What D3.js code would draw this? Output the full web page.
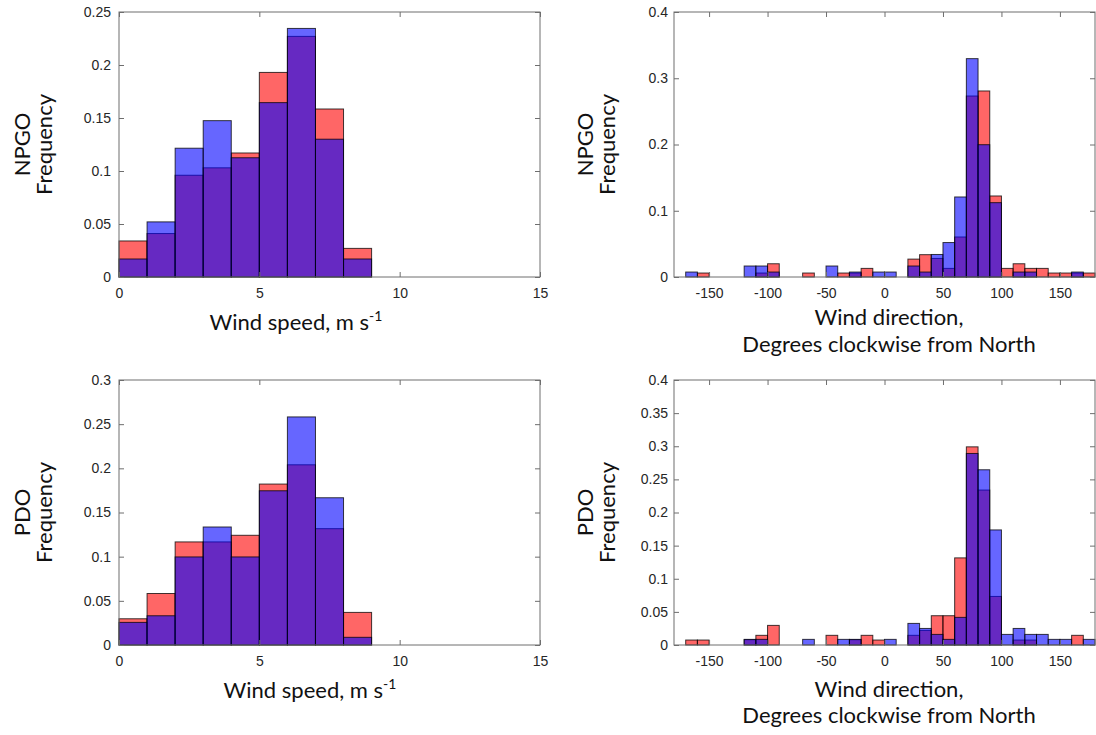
<!DOCTYPE html>
<html lang="en">
<head>
    <meta charset="UTF-8">
    <title>Wind histograms, NPGO and PDO</title>
    <script src="https://d3js.org/d3.v7.min.js"></script>
    <style>
        body {
            margin: 0;
            background-color: #fff;
            overflow: hidden;
        }
        svg {
            display: block;
        }
        .tick text {
            font-family: 'Liberation Sans', Arial, sans-serif;
            font-size: 14px;
            fill: #262626;
        }
        .tick line {
            stroke: #6e6e6e;
        }
        .frame {
            fill: none;
            stroke: #6e6e6e;
            stroke-width: 1;
        }
        .label {
            font-family: 'Lato', 'Noto Sans', sans-serif;
            font-size: 22px;
            fill: #111;
        }
        .bar {
            stroke: #000;
            stroke-width: 1;
            stroke-opacity: 0.75;
        }
    </style>
</head>
<body>
<script>
    // bin edges
    const speedEdges = [0, 1, 2, 3, 4, 5, 6, 7, 8, 9, 10, 11, 12, 13, 14, 15];
    const dirEdges = [-180, -170, -160, -150, -140, -130, -120, -110, -100, -90, -80, -70, -60, -50, -40, -30, -20, -10,
        0, 10, 20, 30, 40, 50, 60, 70, 80, 90, 100, 110, 120, 130, 140, 150, 160, 170, 180];

    // NPGO wind speed
    const npgoSpeedRed  = [0.034, 0.041, 0.096, 0.103, 0.117, 0.193, 0.227, 0.1585, 0.027, 0, 0, 0, 0, 0, 0];
    const npgoSpeedBlue = [0.017, 0.052, 0.1215, 0.1475, 0.1125, 0.1645, 0.2345, 0.130, 0.017, 0, 0, 0, 0, 0, 0];
    // PDO wind speed
    const pdoSpeedRed  = [0.0297, 0.0583, 0.1167, 0.1167, 0.1242, 0.1822, 0.204, 0.1317, 0.0369, 0, 0, 0, 0, 0, 0];
    const pdoSpeedBlue = [0.0256, 0.0331, 0.0997, 0.1336, 0.0997, 0.1746, 0.2582, 0.1667, 0.0087, 0, 0, 0, 0, 0, 0];

    // NPGO wind direction (10 degree bins from -180)
    const npgoDirRed = [0, 0, 0.006, 0, 0, 0, 0, 0.006, 0.020, 0, 0, 0.006, 0, 0, 0.006, 0.006, 0.013, 0,
        0, 0, 0.027, 0.0337, 0.028, 0.013, 0.0604, 0.2732, 0.2808, 0.1223, 0.013, 0.020, 0.013, 0.013, 0.006, 0.006, 0.006, 0.006];
    const npgoDirBlue = [0, 0.0075, 0, 0, 0, 0, 0.0166, 0.0166, 0.0075, 0, 0, 0, 0, 0.0166, 0, 0.0075, 0, 0.0075,
        0.0075, 0, 0.0166, 0.0075, 0.034, 0.052, 0.1208, 0.3296, 0.1997, 0.1122, 0, 0.0075, 0.0075, 0, 0, 0, 0.0075, 0];
    // PDO wind direction
    const pdoDirRed = [0, 0.0075, 0.0075, 0, 0, 0, 0.008, 0.0146, 0.0296, 0, 0, 0, 0, 0.0146, 0, 0.008, 0.0146, 0.0075,
        0, 0, 0.0146, 0.022, 0.0442, 0.0442, 0.1315, 0.2991, 0.2339, 0.0733, 0, 0.0075, 0.0075, 0, 0, 0, 0.0146, 0];
    const pdoDirBlue = [0, 0, 0, 0, 0, 0, 0.0085, 0.0085, 0, 0, 0, 0.0085, 0, 0, 0.0085, 0.0085, 0, 0,
        0.0085, 0, 0.0326, 0.025, 0.016, 0.0085, 0.0417, 0.2891, 0.2645, 0.1737, 0.016, 0.025, 0.016, 0.016, 0.0085, 0.0085, 0, 0.0085];

    // ticks
    const speedTicks = [0, 5, 10, 15];
    const dirTicks = [-150, -100, -50, 0, 50, 100, 150];
    const ticks025 = [0, 0.05, 0.1, 0.15, 0.2, 0.25];
    const ticks03 = [0, 0.05, 0.1, 0.15, 0.2, 0.25, 0.3];
    const ticks04by1 = [0, 0.1, 0.2, 0.3, 0.4];
    const ticks04by05 = [0, 0.05, 0.1, 0.15, 0.2, 0.25, 0.3, 0.35, 0.4];

    const width = 1096;
    const height = 735;

    const svg = d3.select("body")
        .append("svg")
        .attr("width", width)
        .attr("height", height);

    const fmt = d => String(d);

    function drawPanel(p) {
        const x = d3.scaleLinear().domain([p.edges[0], p.edges[p.edges.length - 1]]).range([p.x0, p.x1]);
        const y = d3.scaleLinear().domain([0, p.yMax]).range([p.y1, p.y0]);
        const g = svg.append("g");

        // red first, blue on top so the overlap turns purple
        [[p.red, "rgba(255,0,0,0.6)"], [p.blue, "rgba(0,0,255,0.6)"]].forEach(([vals, col]) => {
            g.selectAll(null)
                .data(vals)
                .enter().append("rect")
                .attr("class", "bar")
                .attr("x", (d, i) => x(p.edges[i]))
                .attr("width", (d, i) => x(p.edges[i + 1]) - x(p.edges[i]))
                .attr("y", d => y(d))
                .attr("height", d => y(0) - y(d))
                .attr("fill", col);
        });

        g.append("rect")
            .attr("class", "frame")
            .attr("x", p.x0)
            .attr("y", p.y0)
            .attr("width", p.x1 - p.x0)
            .attr("height", p.y1 - p.y0);

        const clean = sel => sel.select(".domain").remove();

        g.append("g")
            .attr("transform", `translate(0,${p.y1})`)
            .call(d3.axisBottom(x).tickValues(p.xTicks).tickFormat(fmt).tickSizeInner(-5).tickSizeOuter(0).tickPadding(11))
            .call(clean);
        g.append("g")
            .attr("transform", `translate(0,${p.y0})`)
            .call(d3.axisTop(x).tickValues(p.xTicks).tickFormat("").tickSizeInner(-5).tickSizeOuter(0))
            .call(clean);
        g.append("g")
            .attr("transform", `translate(${p.x0},0)`)
            .call(d3.axisLeft(y).tickValues(p.yTicks).tickFormat(fmt).tickSizeInner(-5).tickSizeOuter(0).tickPadding(p.yPad))
            .call(clean);
        g.append("g")
            .attr("transform", `translate(${p.x1},0)`)
            .call(d3.axisRight(y).tickValues(p.yTicks).tickFormat("").tickSizeInner(-5).tickSizeOuter(0))
            .call(clean);

        // y label, two lines
        const yc = (p.y0 + p.y1) / 2;
        p.yLabel.forEach((t, i) => {
            g.append("text")
                .attr("class", "label")
                .attr("transform", `translate(${p.yLabelX[i]},${yc}) rotate(-90)`)
                .attr("text-anchor", "middle")
                .text(t);
        });

        // x label
        p.xLabel.forEach((t, i) => {
            const txt = g.append("text")
                .attr("class", "label")
                .attr("x", p.xLabelX)
                .attr("y", p.xLabelY[i])
                .attr("text-anchor", "middle");
            if (t.sup) {
                txt.append("tspan").text(t.text);
                txt.append("tspan").attr("dy", -9).attr("font-size", 14).text(t.sup);
            } else {
                txt.text(t.text);
            }
        });
    }

    const leftX = [119, 540];
    const rightX = [674, 1095];
    const topY = [12, 277];
    const botY = [380, 645];

    drawPanel({
        x0: leftX[0], x1: leftX[1], y0: topY[0], y1: topY[1],
        edges: speedEdges, red: npgoSpeedRed, blue: npgoSpeedBlue,
        yMax: 0.25, yTicks: ticks025, xTicks: speedTicks, yPad: 8,
        yLabel: ["NPGO", "Frequency"], yLabelX: [30, 52],
        xLabel: [{ text: "Wind speed, m s", sup: "-1" }], xLabelX: 296, xLabelY: [330]
    });
    drawPanel({
        x0: rightX[0], x1: rightX[1], y0: topY[0], y1: topY[1],
        edges: dirEdges, red: npgoDirRed, blue: npgoDirBlue,
        yMax: 0.4, yTicks: ticks04by1, xTicks: dirTicks, yPad: 6,
        yLabel: ["NPGO", "Frequency"], yLabelX: [593, 615],
        xLabel: [{ text: "Wind direction," }, { text: "Degrees clockwise from North" }], xLabelX: 889, xLabelY: [325, 352]
    });
    drawPanel({
        x0: leftX[0], x1: leftX[1], y0: botY[0], y1: botY[1],
        edges: speedEdges, red: pdoSpeedRed, blue: pdoSpeedBlue,
        yMax: 0.3, yTicks: ticks03, xTicks: speedTicks, yPad: 8,
        yLabel: ["PDO", "Frequency"], yLabelX: [30, 52],
        xLabel: [{ text: "Wind speed, m s", sup: "-1" }], xLabelX: 310, xLabelY: [698]
    });
    drawPanel({
        x0: rightX[0], x1: rightX[1], y0: botY[0], y1: botY[1],
        edges: dirEdges, red: pdoDirRed, blue: pdoDirBlue,
        yMax: 0.4, yTicks: ticks04by05, xTicks: dirTicks, yPad: 6,
        yLabel: ["PDO", "Frequency"], yLabelX: [593, 615],
        xLabel: [{ text: "Wind direction," }, { text: "Degrees clockwise from North" }], xLabelX: 889, xLabelY: [697, 723]
    });
</script>
</body>
</html>
